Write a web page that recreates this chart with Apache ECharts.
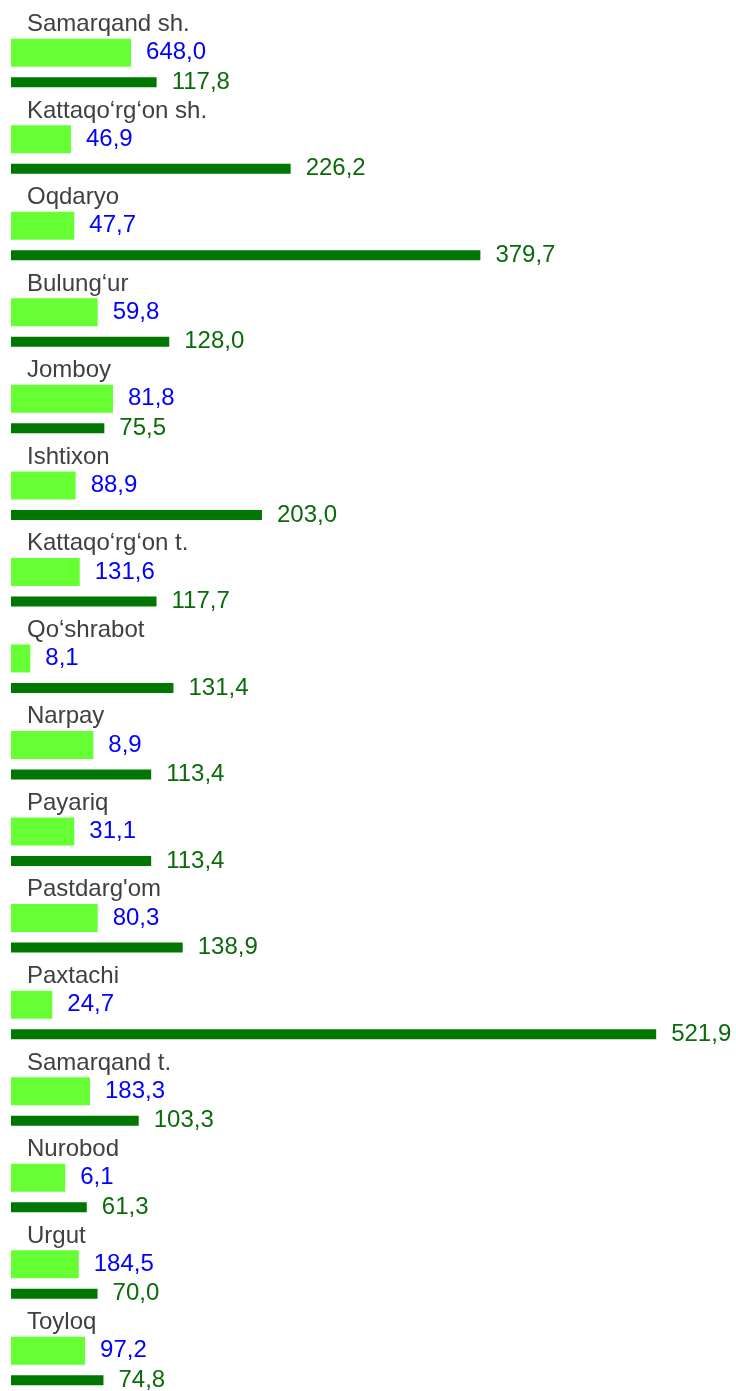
<!DOCTYPE html>
<html>
<head>
<meta charset="utf-8">
<script src="https://cdn.jsdelivr.net/npm/echarts@6/dist/echarts.min.js"></script>
<style>
  html, body { margin: 0; padding: 0; background: #ffffff; }
  #chart { width: 736px; height: 1391px; }
</style>
</head>
<body>
<div id="chart"></div>
<script>
// Districts, top to bottom
const categories = [
  'Samarqand sh.', 'Kattaqo‘rg‘on sh.', 'Oqdaryo', 'Bulung‘ur', 'Jomboy',
  'Ishtixon', 'Kattaqo‘rg‘on t.', 'Qo‘shrabot', 'Narpay', 'Payariq',
  "Pastdarg'om", 'Paxtachi', 'Samarqand t.', 'Nurobod', 'Urgut', 'Toyloq'
];

// Light green bars (length values)
const lightValues = [
  97.1, 48.5, 51.2, 70.1, 82.5, 52.3, 55.6, 15.6,
  66.6, 51.2, 70.1, 33.4, 63.9, 43.9, 54.8, 59.9
];

// Blue figures printed beside the light green bars
const lightLabels = [
  648.0, 46.9, 47.7, 59.8, 81.8, 88.9, 131.6, 8.1,
  8.9, 31.1, 80.3, 24.7, 183.3, 6.1, 184.5, 97.2
];

// Dark green bars
const darkValues = [
  117.8, 226.2, 379.7, 128.0, 75.5, 203.0, 117.7, 131.4,
  113.4, 113.4, 138.9, 521.9, 103.3, 61.3, 70.0, 74.8
];

const FONT = '"Liberation Sans", Arial, sans-serif';
const fmt = v => Number(v).toFixed(1).replace('.', ',');

const chart = echarts.init(document.getElementById('chart'), null, { renderer: 'canvas' });

chart.setOption({
  animation: false,
  backgroundColor: '#ffffff',
  grid: {
    left: 11, top: 19.7, width: 717, height: 1384.6,
    containLabel: false,
    outerBoundsMode: 'none'
  },
  xAxis: {
    type: 'value', min: 0, max: 580, show: false
  },
  yAxis: {
    type: 'category',
    data: categories,
    inverse: true,
    axisLine: { show: false },
    axisTick: { show: false },
    splitLine: { show: false },
    axisLabel: { show: false }
  },
  series: [
    {
      // district names, written above each pair of bars
      name: 'names',
      type: 'scatter',
      data: categories.map(c => [0, c]),
      symbolSize: 0,
      itemStyle: { color: 'transparent', opacity: 1 },
      silent: true,
      label: {
        show: true,
        position: 'right',
        distance: 16,
        offset: [0, -38.5],
        color: '#404040',
        opacity: 1,
        fontSize: 24,
        fontFamily: FONT,
        formatter: p => p.value[1]
      }
    },
    {
      name: 'light',
      type: 'bar',
      data: lightValues,
      barWidth: 28,
      barGap: '37.5%',
      itemStyle: { color: '#66ff33' },
      label: {
        show: true,
        position: 'right',
        distance: 15,
        color: '#0000ff',
        fontSize: 24,
        fontFamily: FONT,
        formatter: p => fmt(lightLabels[p.dataIndex])
      }
    },
    {
      name: 'dark',
      type: 'bar',
      data: darkValues,
      barWidth: 10,
      barGap: '37.5%',
      itemStyle: { color: '#007700' },
      label: {
        show: true,
        position: 'right',
        distance: 15,
        color: '#0b6b0b',
        fontSize: 24,
        fontFamily: FONT,
        formatter: p => fmt(p.value)
      }
    }
  ]
});
</script>
</body>
</html>
